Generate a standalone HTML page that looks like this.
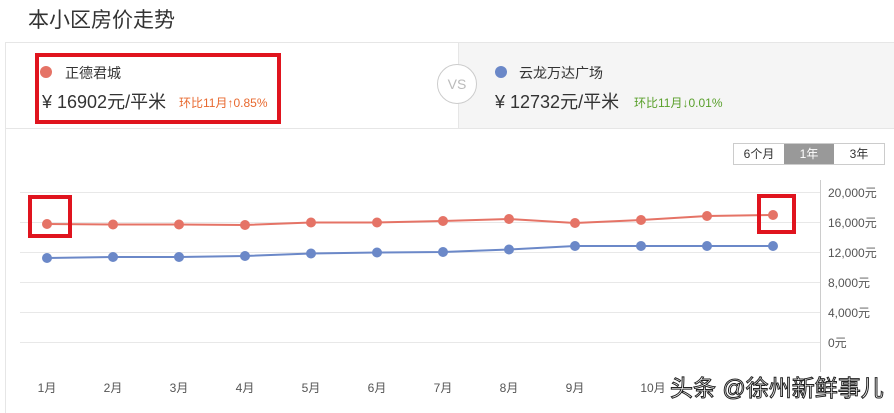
<!DOCTYPE html>
<html><head><meta charset="utf-8"><style>
body{margin:0;width:894px;height:413px;overflow:hidden;background:#fff;font-family:"Liberation Sans","Noto Sans CJK SC",sans-serif;position:relative}
.a{position:absolute;white-space:nowrap}
</style></head><body>
<div class="a" style="left:28px;top:4px;font-size:21px;color:#333">本小区房价走势</div>
<div class="a" style="left:5px;top:42px;width:889px;height:1px;background:#e6e6e6"></div>
<div class="a" style="left:5px;top:42px;width:1px;height:371px;background:#e6e6e6"></div>
<div class="a" style="left:458px;top:43px;width:436px;height:85px;background:#f5f5f5;border-left:1px solid #e6e6e6"></div>
<div class="a" style="left:5px;top:128px;width:889px;height:1px;background:#e6e6e6"></div>
<div class="a" style="left:35px;top:53px;width:238px;height:63px;border:4px solid #e0141e"></div>
<div class="a" style="left:40px;top:66px;width:12px;height:12px;border-radius:50%;background:#e57366"></div>
<div class="a" style="left:65px;top:63px;font-size:14px;color:#333">正德君城</div>
<div class="a" style="left:42px;top:88px;font-size:18px;color:#333">¥ 16902元/平米</div>
<div class="a" style="left:179px;top:94px;font-size:12px;color:#e8692f">环比11月↑0.85%</div>
<div class="a" style="left:437px;top:64px;width:38px;height:38px;border:1px solid #ccc;border-radius:50%;background:#fff;text-align:center;line-height:38px;font-size:14px;color:#bbb">VS</div>
<div class="a" style="left:495px;top:66px;width:12px;height:12px;border-radius:50%;background:#6b88c8"></div>
<div class="a" style="left:519px;top:63px;font-size:14px;color:#333">云龙万达广场</div>
<div class="a" style="left:495px;top:88px;font-size:18px;color:#333">¥ 12732元/平米</div>
<div class="a" style="left:634px;top:94px;font-size:12px;color:#5aa02c">环比11月↓0.01%</div>
<div class="a" style="left:733px;top:143px;height:20px;border:1px solid #ccc;font-size:12px;line-height:20px;color:#333;display:flex">
<span style="width:50px;text-align:center">6个月</span><span style="width:50px;text-align:center;background:#999;color:#fff">1年</span><span style="width:50px;text-align:center">3年</span></div>
<svg class="a" style="left:0;top:0" width="894" height="413">
<g stroke="#e8e8e8" stroke-width="1">
<line x1="20" x2="820" y1="192.5" y2="192.5"/><line x1="20" x2="820" y1="222.5" y2="222.5"/><line x1="20" x2="820" y1="252.5" y2="252.5"/><line x1="20" x2="820" y1="282.5" y2="282.5"/><line x1="20" x2="820" y1="312.5" y2="312.5"/><line x1="20" x2="820" y1="342.5" y2="342.5"/></g>
<line x1="820.5" x2="820.5" y1="180" y2="372" stroke="#ccc"/>
<g font-size="12" fill="#555" font-family="Liberation Sans,Noto Sans CJK SC,sans-serif">
<text x="828" y="197">20,000元</text><text x="828" y="227">16,000元</text><text x="828" y="257">12,000元</text><text x="828" y="287">8,000元</text><text x="828" y="317">4,000元</text><text x="828" y="347">0元</text>
<text x="47" y="392" text-anchor="middle">1月</text><text x="113" y="392" text-anchor="middle">2月</text><text x="179" y="392" text-anchor="middle">3月</text><text x="245" y="392" text-anchor="middle">4月</text><text x="311" y="392" text-anchor="middle">5月</text><text x="377" y="392" text-anchor="middle">6月</text><text x="443" y="392" text-anchor="middle">7月</text><text x="509" y="392" text-anchor="middle">8月</text><text x="575" y="392" text-anchor="middle">9月</text><text x="653" y="392" text-anchor="middle">10月</text></g>
<polyline fill="none" stroke="#e57366" stroke-width="2" points="47,224 113,224.5 179,224.5 245,225 311,222.5 377,222.5 443,221 509,219 575,223 641,220 707,216 773,215"/>
<polyline fill="none" stroke="#6b88c8" stroke-width="2" points="47,258 113,257 179,257 245,256 311,253.5 377,252.5 443,252 509,249.5 575,246 641,246 707,246 773,246"/>
<g fill="#e57366"><circle cx="47" cy="224" r="5"/><circle cx="113" cy="224.5" r="5"/><circle cx="179" cy="224.5" r="5"/><circle cx="245" cy="225" r="5"/><circle cx="311" cy="222.5" r="5"/><circle cx="377" cy="222.5" r="5"/><circle cx="443" cy="221" r="5"/><circle cx="509" cy="219" r="5"/><circle cx="575" cy="223" r="5"/><circle cx="641" cy="220" r="5"/><circle cx="707" cy="216" r="5"/><circle cx="773" cy="215" r="5"/></g>
<g fill="#6b88c8"><circle cx="47" cy="258" r="5"/><circle cx="113" cy="257" r="5"/><circle cx="179" cy="257" r="5"/><circle cx="245" cy="256" r="5"/><circle cx="311" cy="253.5" r="5"/><circle cx="377" cy="252.5" r="5"/><circle cx="443" cy="252" r="5"/><circle cx="509" cy="249.5" r="5"/><circle cx="575" cy="246" r="5"/><circle cx="641" cy="246" r="5"/><circle cx="707" cy="246" r="5"/><circle cx="773" cy="246" r="5"/></g>
<g fill="none" stroke="#e0141e" stroke-width="4"><rect x="30" y="197" width="40" height="39"/><rect x="759" y="196" width="35" height="36"/></g>
<text x="670" y="396" font-size="23" fill="#fff" stroke="#222" stroke-width="1" font-family="Liberation Sans,Noto Sans CJK SC,sans-serif">头条 @徐州新鲜事儿</text>
</svg>
</body></html>
